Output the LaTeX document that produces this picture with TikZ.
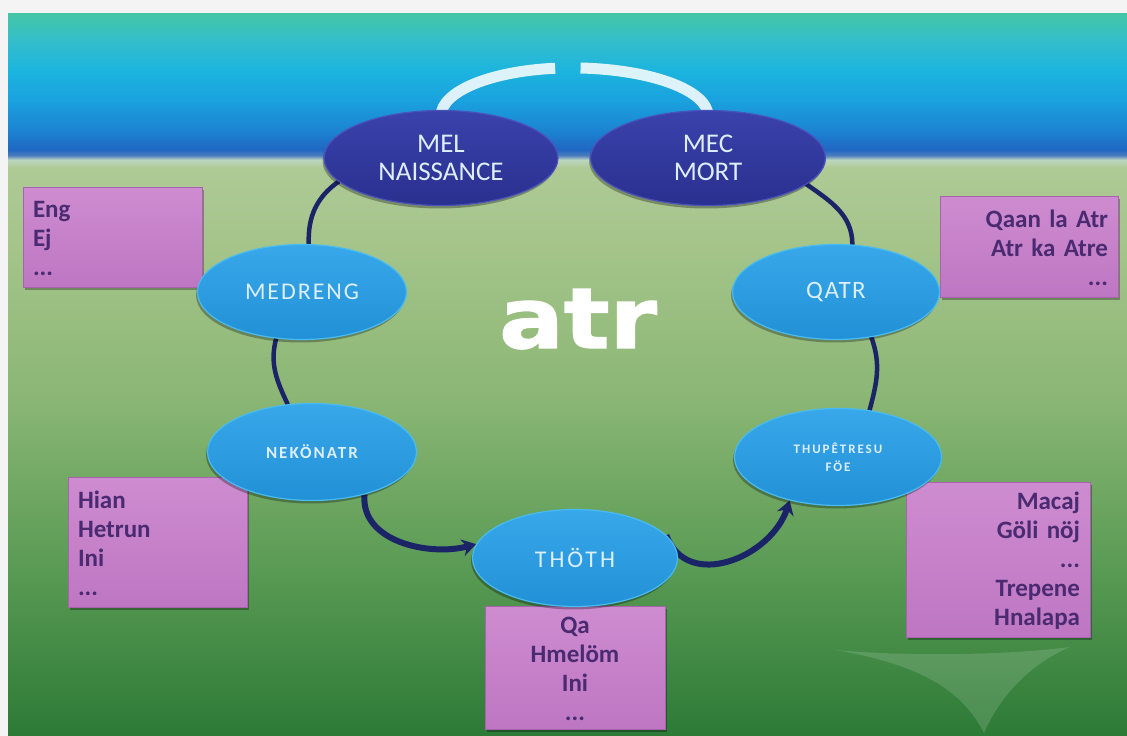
\documentclass[tikz,border=0pt]{standalone}
\usepackage{fontspec}
\setmainfont{Carlito}
\newfontfamily\headfont{DejaVu Sans}[FakeBold=1.5]
\usetikzlibrary{arrows.meta,shapes.geometric,shadows}

% palette
\definecolor{pagegrey}{HTML}{F3F4F3}
\definecolor{t0}{HTML}{44C6A6}
\definecolor{t1}{HTML}{34BECA}
\definecolor{b1}{HTML}{1CB4DE}
\definecolor{b2}{HTML}{1AA2DE}
\definecolor{b3}{HTML}{1C84D2}
\definecolor{b4}{HTML}{2066C2}
\definecolor{b5}{HTML}{4C7EBE}
\definecolor{g2}{HTML}{BCD6C0}
\definecolor{g3}{HTML}{AECA96}
\definecolor{g4}{HTML}{A4C48A}
\definecolor{g5}{HTML}{8AB674}
\definecolor{g6}{HTML}{5C9C56}
\definecolor{g7}{HTML}{2C7A36}
\definecolor{stagetop}{HTML}{38A8EA}
\definecolor{stagebot}{HTML}{2290D6}
\definecolor{stagerim}{HTML}{48BCF2}
\definecolor{poletop}{HTML}{3A42AC}
\definecolor{polebot}{HTML}{2A308E}
\definecolor{polerim}{HTML}{4A52BC}
\definecolor{labtext}{HTML}{DCEEF8}
\definecolor{notetop}{HTML}{CE8CD0}
\definecolor{notebot}{HTML}{BE76C2}
\definecolor{noterim}{HTML}{A862AE}
\definecolor{notetext}{HTML}{4A2A70}
\definecolor{linkcol}{HTML}{1C2468}

\pgfdeclarelayer{backdrop}
\pgfdeclarelayer{wires}
\pgfsetlayers{backdrop,wires,main}

% sky band on top, green field below
\pgfdeclareverticalshading{panel}{100bp}{%
  color(0bp)=(g7); color(25bp)=(g7); color(37.2bp)=(g6); color(48.25bp)=(g5);
  color(58.65bp)=(g4); color(64.35bp)=(g3); color(64.9bp)=(g2); color(65.2bp)=(b5);
  color(65.6bp)=(b4); color(66.95bp)=(b3); color(69.05bp)=(b2); color(71.1bp)=(b1);
  color(73.2bp)=(t1); color(75bp)=(t0); color(100bp)=(t0)}

\newcommand\lab[3]{\fontsize{#1}{#2}\selectfont\addfontfeature{LetterSpace=#3}}
\newcommand\notefnt{\fontsize{25}{29}\selectfont\bfseries}

\tikzset{
  stage/.style={ellipse, inner sep=0pt, minimum width=209pt, minimum height=95pt,
    top color=stagetop, bottom color=stagebot, draw=stagerim, line width=1.2pt,
    text=labtext, align=center,
    drop shadow={shadow xshift=-1.5pt, shadow yshift=-3pt, opacity=0.3, fill=black}},
  pole/.style={stage, top color=poletop, bottom color=polebot, draw=polerim,
    minimum width=234pt, font={\lab{27}{28}{0}}},
  note/.style={rectangle, inner xsep=10pt, inner ysep=4pt, top color=notetop,
    bottom color=notebot, draw=noterim, line width=1pt, text=notetext, font=\notefnt,
    drop shadow={shadow xshift=2pt, shadow yshift=-2pt, opacity=0.3, fill=black}},
  link/.style={draw=linkcol, line width=4.5pt, line cap=round},
  flow/.style={draw=linkcol, line width=6pt, -{Stealth[length=14pt,width=17pt]}},
  ribbon/.style={draw=white, line width=11pt, opacity=0.85},
}

\begin{document}
\begin{tikzpicture}[x=1pt,y=1pt]
\useasboundingbox (0,0) rectangle (1127,736);

\begin{pgfonlayer}{backdrop}
  \fill[pagegrey] (0,0) rectangle (1127,736);
  \shade[shading=panel] (8,0) rectangle (1127,722);
  % pale four-point sparkle in the lower right
  \fill[white, opacity=0.14] (835,86) .. controls (930,70) and (965,40) .. (984,3)
    .. controls (1000,40) and (1030,72) .. (1070,89)
    .. controls (1000,80) and (900,80) .. cycle;
\end{pgfonlayer}

% notes
\node[note, text width=159pt, minimum height=100pt, align=left] (n1) at (112.5,498) {Eng\\Ej\\...};
\node[note, text width=158pt, minimum height=101pt, align=right] (n2) at (1029,488.5) {Qaan la Atr\\Atr ka Atre\\...};
\node[note, text width=159pt, minimum height=130pt, align=left] (n3) at (157.5,193) {Hian\\Hetrun\\Ini\\...};
\node[note, text width=160pt, minimum height=123pt, align=center] (n4) at (575,67.5) {Qa\\Hmelöm\\Ini\\...};
\node[note, text width=164pt, minimum height=155pt, align=right] (n5) at (998,175.5) {Macaj\\Göli nöj\\...\\Trepene\\Hnalapa};

% life stages
\node[pole] (mel) at (441,578) {MEL\\NAISSANCE};
\node[pole, minimum width=235pt] (mec) at (708,578) {MEC\\MORT};
\node[stage, font={\lab{24}{26}{8}}] (medreng) at (302,444) {MEDRENG};
\node[stage, minimum width=207pt, font={\lab{25}{26}{6}}] (qatr) at (836,444) {QATR};
\node[stage, minimum height=97pt, font={\bfseries\lab{17}{20}{12}}] (nekonatr) at (312,284) {NEKÖNATR};
\node[stage, minimum width=207pt, minimum height=97pt, font={\bfseries\lab{13}{18}{15}}] (thupe) at (838,279) {THUPÊTRESU\\FÖE};
\node[stage, minimum width=205pt, minimum height=97pt, font={\lab{24}{26}{12}}] (thoth) at (575,178) {THÖTH};

% title
\node[anchor=base, text=white, inner sep=0pt, font={\headfont\bfseries\fontsize{84}{90}\selectfont}] (title) at (578,388) {\scalebox{1.14}[1]{atr}};

\begin{pgfonlayer}{wires}
  \draw[link] (mel.193) to[out=215,in=92] (medreng.82);
  \draw[link] (medreng.241) to[out=255,in=115] (nekonatr.117);
  \draw[flow] (nekonatr.321) to[out=265,in=195] (thoth.172);
  \draw[flow] (thoth.14) to[out=-70,in=252, looseness=1.2] (thupe.222);
  \draw[link] (thupe.56) to[out=75,in=290] (qatr.308);
  \draw[link] (qatr.71) to[out=90,in=-35] (mec.345);
  % return ribbon from death back to birth
  \draw[ribbon] ([yshift=-6pt]mel.north) arc[start angle=180, end angle=97, x radius=130, y radius=48];
  \draw[ribbon] ([yshift=-6pt]mec.north) arc[start angle=0, end angle=86, x radius=137, y radius=48];
\end{pgfonlayer}
\end{tikzpicture}
\end{document}
